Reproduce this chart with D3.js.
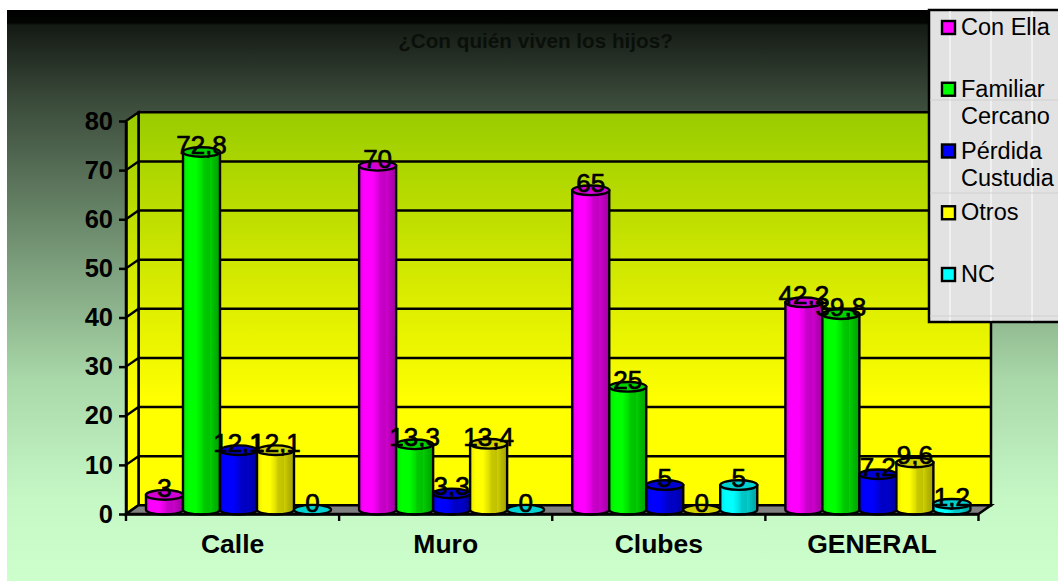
<!DOCTYPE html>
<html>
<head>
<meta charset="utf-8">
<script src="https://cdn.jsdelivr.net/npm/d3@7"></script>
<style>
  body { margin: 0; background: #fff; }
  svg { display: block; }
  text { font-family: "Liberation Sans", Arial, sans-serif; fill: #000; }
</style>
</head>
<body>
<div class="canvas"></div>
<script>
// chart data
const categories = ["Calle", "Muro", "Clubes", "GENERAL"];
const series = ["Con Ella", "Familiar Cercano", "Pérdida Custudia", "Otros", "NC"];
const conElla = [3, 70, 65, 42.2];
const familiar = [72.8, 13.3, 25, 39.8];
const perdida = [12.1, 3.3, 5, 7.2];
const otros = [12.1, 13.4, 0, 9.6];
const nc = [0, 0, 5, 1.2];
const values = [conElla, familiar, perdida, otros, nc];
const yTicks = [0, 10, 20, 30, 40, 50, 60, 70, 80];
const colors = ["#ff00ff", "#00ff00", "#0000ff", "#ffff00", "#00ffff"];
const legendLines = [["Con Ella"], ["Familiar", "Cercano"], ["Pérdida", "Custudia"], ["Otros"], ["NC"]];

// dimensions
const width = 1058, height = 581;
const depthX = 12.5, depthY = 8.7;
const plotLeft = 126, plotRight = 978.5, plotBottom = 514, plotTop = 121;

const svg = d3.select(".canvas")
              .append("svg")
              .attr("width", width)
              .attr("height", height);
const defs = svg.append("defs");

// page background
const bg = defs.append("linearGradient")
               .attr("id", "bg")
               .attr("gradientUnits", "userSpaceOnUse")
               .attr("x1", 0).attr("x2", 0).attr("y1", 0).attr("y2", height);
[[10, "#000000"], [23, "#020502"], [25, "#141a14"], [100, "#3a4a3a"], [380, "#a9d8a9"], [500, "#c6f8c6"], [581, "#ccffcc"]]
  .forEach(s => bg.append("stop").attr("offset", s[0] / height).attr("stop-color", s[1]));

// wall
const wall = defs.append("linearGradient")
                 .attr("id", "wall")
                 .attr("gradientUnits", "userSpaceOnUse")
                 .attr("x1", 0).attr("x2", 0).attr("y1", 112).attr("y2", 400);
wall.append("stop").attr("offset", 0).attr("stop-color", "#99cc00");
wall.append("stop").attr("offset", 1).attr("stop-color", "#ffff00");

// cylinder shading, one per series
colors.forEach((c, i) => {
  const g = defs.append("linearGradient").attr("id", "cyl" + i);
  const dark = k => d3.rgb(c).darker(k);
  [[0, dark(0.25)], [0.15, c], [0.35, c], [0.52, dark(0.4)], [0.56, dark(0.65)], [0.72, dark(0.8)], [0.72, dark(0.55)], [0.85, dark(0.95)], [1, dark(1.25)]]
    .forEach(s => g.append("stop").attr("offset", s[0]).attr("stop-color", s[1]));
});

svg.append("rect")
   .attr("x", 7).attr("y", 10)
   .attr("width", width - 7).attr("height", height - 10)
   .attr("fill", "url(#bg)");

svg.append("text")
   .attr("x", 535.5).attr("y", 47.5)
   .attr("text-anchor", "middle")
   .attr("font-size", 20.7)
   .attr("font-weight", "bold")
   .style("fill", "#0a0f0a")
   .text("¿Con quién viven los hijos?");

// scales
const y = d3.scaleLinear().domain([0, 80]).range([plotBottom, plotTop]);
const x = d3.scaleBand().domain(categories).range([plotLeft, plotRight]);
const xSeries = d3.scaleBand().domain(series).range([14, 199]);

// walls and floor
const poly = (pts, fill) => svg.append("polygon")
  .attr("points", pts.map(p => p.join(",")).join(" "))
  .attr("fill", fill).attr("stroke", "#000").attr("stroke-width", 2.5);

poly([[plotLeft + depthX, plotTop - depthY], [plotRight + depthX, plotTop - depthY], [plotRight + depthX, plotBottom - depthY], [plotLeft + depthX, plotBottom - depthY]], "url(#wall)");
poly([[plotLeft, plotTop], [plotLeft + depthX, plotTop - depthY], [plotLeft + depthX, plotBottom - depthY], [plotLeft, plotBottom]], "url(#wall)");
poly([[plotLeft, plotBottom], [plotLeft + depthX, plotBottom - depthY], [plotRight + depthX, plotBottom - depthY], [plotRight, plotBottom]], "#808080");

// grid lines on the walls
svg.append("g").selectAll("polyline")
   .data(yTicks.slice(1, -1))
   .enter()
   .append("polyline")
   .attr("points", d => `${plotLeft},${y(d)} ${plotLeft + depthX},${y(d) - depthY} ${plotRight + depthX},${y(d) - depthY}`)
   .attr("fill", "none")
   .attr("stroke", "#000")
   .attr("stroke-width", 2.4);

// flatten to one record per bar
const bars = [];
categories.forEach((cat, c) => {
  series.forEach((s, i) => {
    bars.push({ cat: cat, name: s, idx: i, value: values[i][c] });
  });
});

const r = 18.5, ry = 4.8;
const cx = d => x(d.cat) + xSeries(d.name) + xSeries.bandwidth() / 2 + depthX / 2 - 0.25;
const midY = v => y(v) - depthY / 2;

const cyl = svg.append("g").selectAll("g")
               .data(bars)
               .enter()
               .append("g");

cyl.filter(d => d.value > 0)
   .append("path")
   .attr("d", d => `M${cx(d) - r},${midY(d.value)} L${cx(d) - r},${midY(0)} A${r},${ry} 0 0 0 ${cx(d) + r},${midY(0)} L${cx(d) + r},${midY(d.value)} Z`)
   .attr("fill", d => `url(#cyl${d.idx})`)
   .attr("stroke", "#000")
   .attr("stroke-width", 2.4);

cyl.append("ellipse")
   .attr("cx", cx)
   .attr("cy", d => midY(d.value))
   .attr("rx", r)
   .attr("ry", ry)
   .attr("fill", d => d3.rgb(colors[d.idx]).darker(0.55))
   .attr("stroke", "#000")
   .attr("stroke-width", 2.4);

// axes
const yAxis = d3.axisLeft(y).tickValues(yTicks).tickSize(7).tickSizeOuter(0).tickPadding(6);
const yG = svg.append("g").attr("transform", `translate(${plotLeft},0)`).call(yAxis);
yG.selectAll("text").attr("font-size", 25.5).attr("font-weight", "bold").style("font-family", "Liberation Sans").attr("dy", "0.32em");

const xAxis = d3.axisBottom(x).tickSize(0).tickPadding(20);
const xG = svg.append("g").attr("transform", `translate(0,${plotBottom})`).call(xAxis);
xG.selectAll("text").attr("font-size", 26.5).attr("font-weight", "bold").style("font-family", "Liberation Sans").attr("dy", "0.71em");

// category ticks sit on the band edges
svg.append("g").selectAll("line")
   .data(categories.concat(null))
   .enter()
   .append("line")
   .attr("x1", d => d ? x(d) : plotRight)
   .attr("x2", d => d ? x(d) : plotRight)
   .attr("y1", plotBottom)
   .attr("y2", plotBottom + 7)
   .attr("stroke", "#000")
   .attr("stroke-width", 2.4);

[yG, xG].forEach(g => g.selectAll("path, line").attr("stroke", "#000").attr("stroke-width", 2.5));

// data labels
svg.append("g").selectAll("text")
   .data(bars)
   .enter()
   .append("text")
   .attr("x", cx)
   .attr("y", d => midY(d.value) + 2)
   .attr("text-anchor", "middle")
   .attr("font-size", 26)
   .attr("stroke", "#000")
   .attr("stroke-width", 0.7)
   .text(d => String(d.value).replace(".", ","));

// legend
const legend = svg.append("g");
legend.append("rect")
      .attr("x", 929).attr("y", 10)
      .attr("width", 140).attr("height", 312)
      .attr("fill", "#e2e2e2")
      .attr("stroke", "#000")
      .attr("stroke-width", 2.5);

[950, 991, 1032].forEach(px => legend.append("line")
  .attr("x1", px).attr("x2", px).attr("y1", 11).attr("y2", 321)
  .attr("stroke", "#fff").attr("stroke-width", 1));
[100, 193, 316].forEach(py => legend.append("line")
  .attr("x1", 930).attr("x2", width).attr("y1", py).attr("y2", py)
  .attr("stroke", "#d0d0d0").attr("stroke-width", 1));

const legendY = d3.scalePoint().domain(series).range([35, 282]);
const item = legend.selectAll("g.item")
                   .data(series)
                   .enter()
                   .append("g")
                   .attr("class", "item")
                   .attr("transform", d => `translate(0,${legendY(d)})`);

item.append("rect")
    .attr("x", 942).attr("y", -14)
    .attr("width", 13).attr("height", 13)
    .attr("fill", (d, i) => colors[i])
    .attr("stroke", "#000")
    .attr("stroke-width", 2.4);

item.append("text")
    .attr("x", 961)
    .attr("font-size", 23.5)
    .selectAll("tspan")
    .data((d, i) => legendLines[i])
    .enter()
    .append("tspan")
    .attr("x", 961)
    .attr("dy", (d, i) => i ? 27.5 : 0)
    .text(d => d);
</script>
</body>
</html>
